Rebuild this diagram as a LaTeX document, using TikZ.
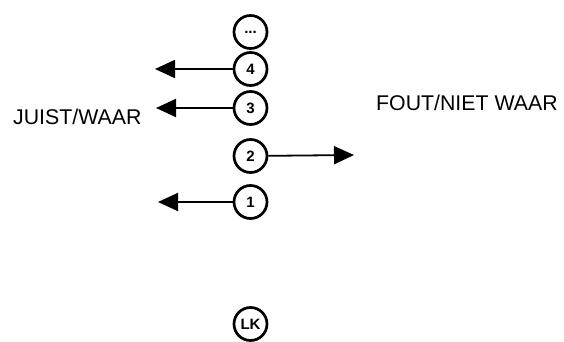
\documentclass[tikz,border=0pt]{standalone}
\usepackage{fontspec}
\setmainfont{Liberation Sans}
\usetikzlibrary{arrows.meta}
\begin{document}
\begin{tikzpicture}[x=1pt,y=-1pt,
  num/.style={circle,draw,line width=2.7pt,minimum size=33pt,inner sep=0pt,font=\bfseries\fontsize{15}{15}\selectfont},
  lbl/.style={font=\fontsize{21.3}{22}\selectfont,inner sep=0pt},
  arr/.style={line width=1.8pt,-{Triangle[length=20pt,width=18pt]}}]
\useasboundingbox (0,0) rectangle (564,342);
\node[num] (dots) at (250.5,32) {...};
\node[num] (n4) at (250.5,69) {4};
\node[num] (n3) at (250.5,108) {3};
\node[num] (n2) at (250.5,156) {2};
\node[num] (n1) at (250.5,202) {1};
\node[num] (lk) at (250.5,324) {LK};
\coordinate (t4) at (155,69);
\coordinate (t3) at (156,108);
\coordinate (t2) at (354,155);
\coordinate (t1) at (158,202);
\draw[arr] (n4) -- (t4);
\draw[arr] (n3) -- (t3);
\draw[arr] (n2) -- (t2);
\draw[arr] (n1) -- (t1);
\node[lbl,anchor=west] (juist) at (13,117) {JUIST/WAAR};
\node[lbl,anchor=west] (fout) at (376,103) {FOUT/NIET WAAR};
\end{tikzpicture}
\end{document}
